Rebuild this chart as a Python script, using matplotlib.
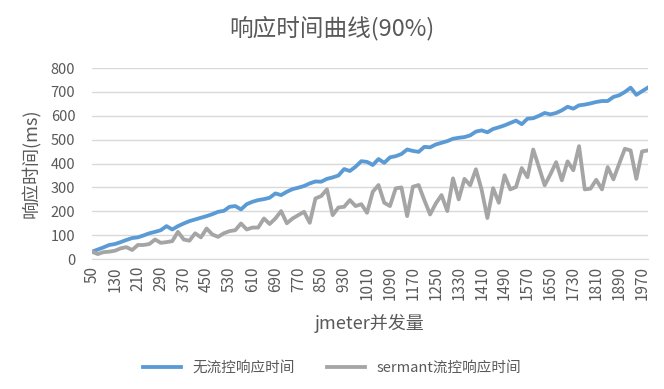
import matplotlib
matplotlib.use("Agg")
import matplotlib.pyplot as plt

plt.rcParams['font.family'] = ['Noto Sans CJK SC', 'DejaVu Sans']

#-------------------------------------------------------------------------------
# data
concurrency = list(range(50, 2000, 20))

no_limit = [31, 40, 49, 59, 63, 71, 80, 88, 91, 99,
            108, 114, 121, 138, 124, 138, 149, 159, 166, 173,
            180, 188, 198, 202, 219, 222, 208, 230, 240, 247,
            251, 257, 275,
            268, 282, 293, 299, 306, 317, 325, 324, 336, 342,
            350, 377, 369, 387, 410, 407, 394, 419, 403, 426,
            431, 440, 459, 453, 449, 470, 468, 480, 487, 494,
            504, 508, 511,
            518, 534, 539, 531, 545, 552, 560, 570, 580, 565,
            588, 590, 600, 612, 606, 612, 623, 638, 630, 644,
            647, 652, 658, 662, 662, 679, 686, 700, 718, 688,
            703, 718]

sermant = [31, 21, 29, 31, 35, 45, 50, 38, 59, 59,
           63, 82, 68, 71, 75, 114, 82, 77, 108, 91,
           128, 103, 93, 108, 117, 121, 149, 124, 132, 132,
           170, 147,
           170, 201, 150, 170, 184, 198, 152, 254, 264, 292,
           184, 216, 219, 247, 222, 230, 194, 282, 310, 236,
           222, 296, 300, 180, 303, 310, 247, 187, 233, 268,
           201, 338, 250, 336,
           309, 376, 290, 172, 297, 236, 351, 292, 302, 381,
           343, 459, 385, 309, 355, 406, 330, 409, 372, 473,
           292, 295, 332, 292, 385, 334, 399, 462, 455, 336,
           451, 455]

series_names = ['无流控响应时间', 'sermant流控响应时间']
title = '响应时间曲线(90%)'
#-------------------------------------------------------------------------------
text_color = '#595959'
grid_color = '#d9d9d9'

fig = plt.figure(figsize=(6.64, 3.89), dpi=100)
ax = fig.add_axes([0.1386, 0.334, 0.837, 0.491])

ax.plot(concurrency, no_limit, color='#5B9BD5', linewidth=2.75,
        label=series_names[0], solid_joinstyle='round')
ax.plot(concurrency, sermant, color='#A5A5A5', linewidth=2.75,
        label=series_names[1], solid_joinstyle='round')

ax.set_xlim(concurrency[0], concurrency[-1])
ax.set_ylim(0, 800)
ax.set_yticks(range(0, 801, 100))
ax.set_xticks(concurrency[::4])
ax.set_xticklabels([str(c) for c in concurrency[::4]], rotation=90)

ax.grid(True, axis='y', color=grid_color, linewidth=1)
ax.set_axisbelow(True)
for s in ['top', 'right', 'left']:
    ax.spines[s].set_visible(False)
ax.spines['bottom'].set_color(grid_color)
ax.tick_params(axis='both', length=0, colors=text_color)
ax.tick_params(axis='x', pad=5, labelsize=11)
ax.tick_params(axis='y', pad=12, labelsize=10.5)

ax.set_ylabel('响应时间(ms)', fontsize=13, color=text_color, labelpad=8)
ax.set_xlabel('jmeter并发量', fontsize=13, color=text_color, labelpad=10)
fig.suptitle(title, fontsize=17, color=text_color, x=0.5, y=0.96)

fig.legend(loc='center', bbox_to_anchor=(0.5, 0.054), ncol=2, frameon=False,
           fontsize=10.5, labelcolor=text_color, handlelength=2.6,
           columnspacing=2.2)
#-------------------------------------------------------------------------------
fig.savefig('out.png', dpi=100)
